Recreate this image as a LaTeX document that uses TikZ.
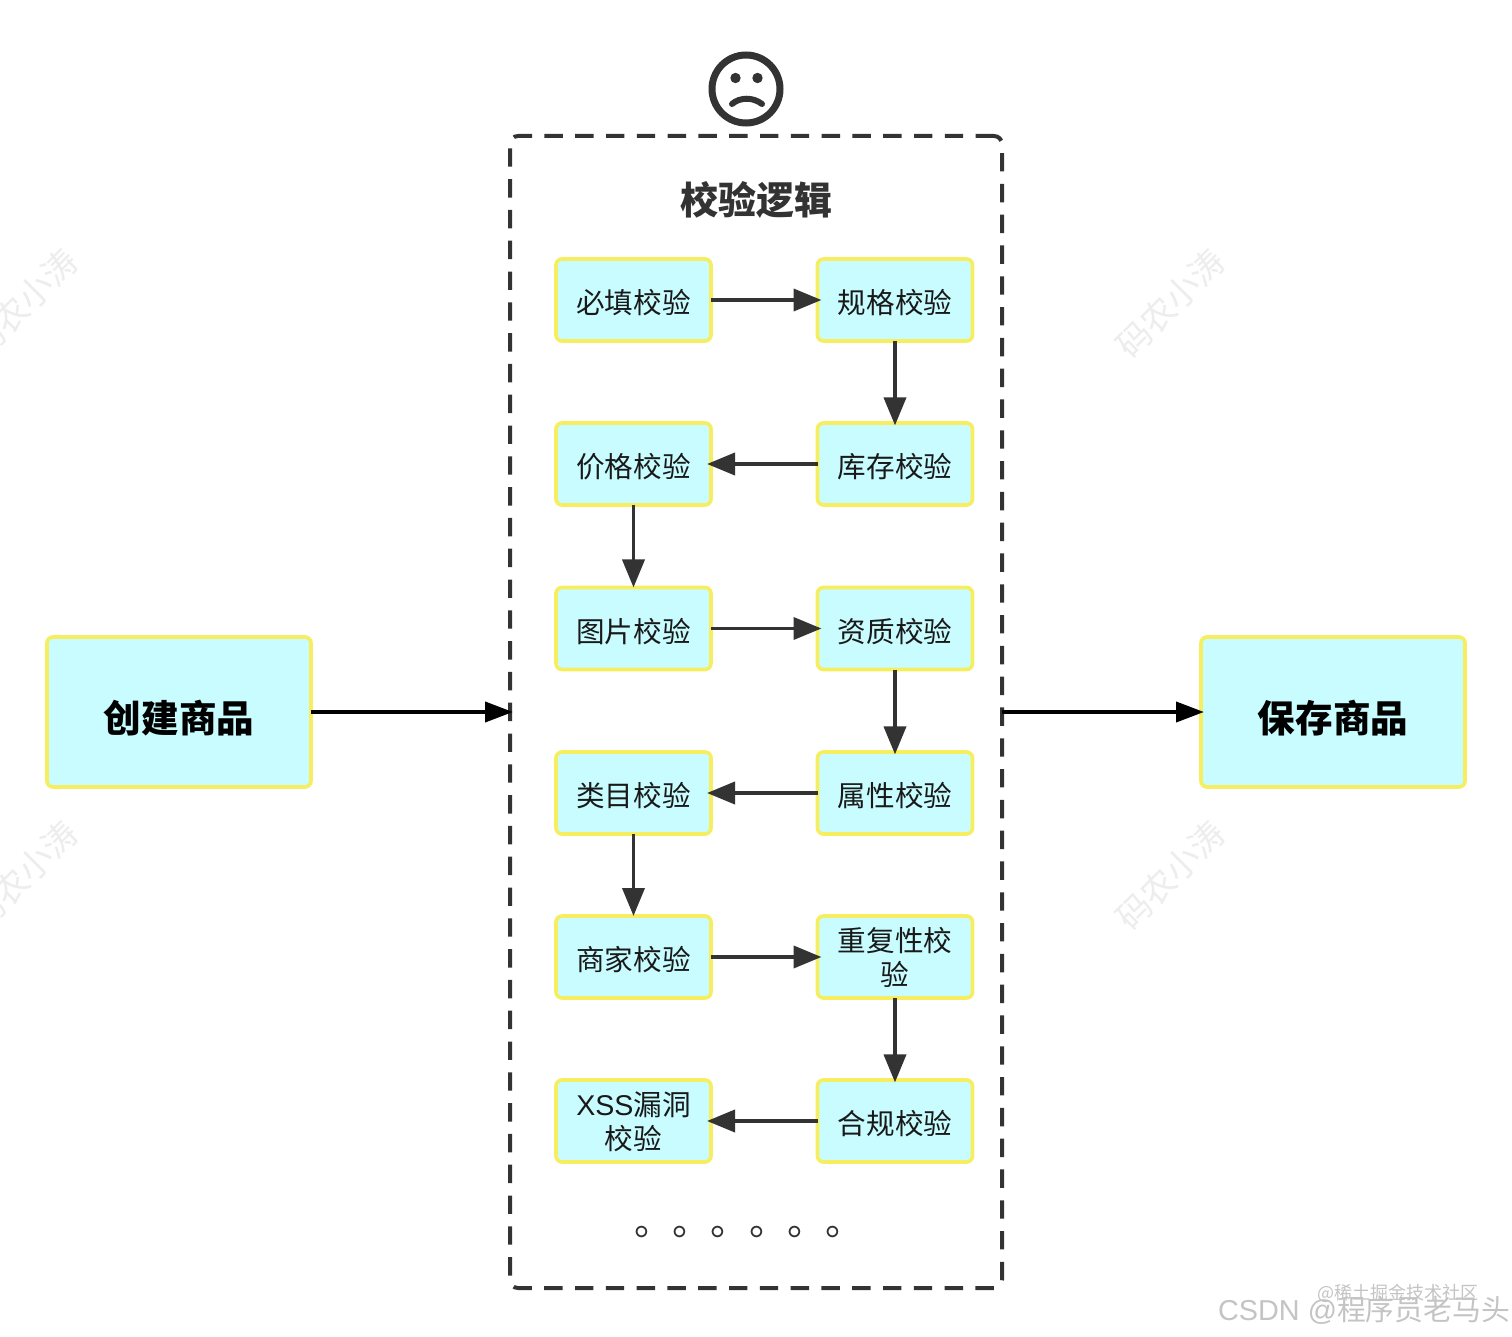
\documentclass[tikz,border=0pt]{standalone}
\usepackage{fontspec}
\setmainfont{Noto Sans CJK SC}
\newfontfamily\latinf{Liberation Sans}
\usetikzlibrary{arrows.meta}
\definecolor{boxfill}{HTML}{C8FCFF}
\definecolor{boxline}{HTML}{F6EE5E}
\definecolor{ink}{HTML}{333333}
\definecolor{wm}{HTML}{EDEDED}
\definecolor{csdn}{HTML}{C4C4C4}
\tikzset{
  x=0.5pt,y=-0.5pt,
  checkbox/.style={draw=boxline,fill=boxfill,line width=1.8pt,rounded corners=3pt,
    minimum width=77.5pt,minimum height=41pt,inner sep=0pt,outer sep=0pt,align=center,
    text=black!90,text height=15.1pt,font=\fontsize{14.3}{17}\selectfont},
  twoline/.style={text height=29.2pt},
  bigbox/.style={draw=boxline,fill=boxfill,line width=1.8pt,rounded corners=3pt,
    minimum width=132pt,minimum height=75pt,inner sep=0pt,outer sep=0pt,
    text=black,text height=22.5pt,font=\fontsize{18.8}{22}\selectfont\bfseries},
  flow/.style={draw=ink,line width=1.9pt,-{Triangle[length=14pt,width=11pt]},shorten >=-2pt},
  flowdown/.style={flow,shorten >=0pt},
  flowright/.style={flow,shorten >=-1.2pt},
  mainflow/.style={draw=black,line width=2pt,-{Triangle[length=14pt,width=10pt]},shorten >=-1.5pt},
  wmark/.style={text=wm,rotate=45,font=\fontsize{17}{19}\selectfont},
}
\begin{document}
\begin{tikzpicture}
\useasboundingbox (0,0) rectangle (1512,1337);
\fill[white] (0,0) rectangle (1512,1337);
% watermarks
\node[wmark] (w1) at (23,303) {码农小涛};
\node[wmark] (w2) at (1170,303) {码农小涛};
\node[wmark] (w3) at (23,875) {码农小涛};
\node[wmark] (w4) at (1170,875) {码农小涛};
\node[text=csdn,font=\fontsize{9}{11}\selectfont,inner sep=0pt] (w5) at (1398,1293) {@稀土掘金技术社区};
\node[text=csdn,font=\fontsize{14.4}{17}\selectfont,inner sep=0pt] (w6) at (1364,1310) {{\latinf CSDN @}程序员老马头};
% dashed container
\node[draw=ink,line width=2pt,dash pattern=on 9.2pt off 6.2pt,rounded corners=4pt,
  minimum width=246pt,minimum height=576pt,inner sep=0pt,outer sep=0pt] (logic) at (756,712) {};
\node[text=ink,font=\fontsize{19}{22}\selectfont\bfseries,inner sep=0pt] (title) at (756,200) {校验逻辑};
% face
\node[circle,draw=ink,line width=3.5pt,minimum size=34pt,inner sep=0pt] (face) at (746,89) {};
\fill[ink] (735.5,78) circle (2.6pt) (757.5,78) circle (2.6pt);
\draw[ink,line width=3pt,line cap=round] (732,104) .. controls (740,97) and (753,97) .. (762,104);
% left column
\node[checkbox] (a1) at (633.5,300) {必填校验};
\node[checkbox] (a2) at (633.5,464) {价格校验};
\node[checkbox] (a3) at (633.5,628.5) {图片校验};
\node[checkbox] (a4) at (633.5,793) {类目校验};
\node[checkbox] (a5) at (633.5,957) {商家校验};
\node[checkbox,twoline] (a6) at (633.5,1121) {{\latinf XSS}漏洞\\校验};
% right column
\node[checkbox] (b1) at (895,300) {规格校验};
\node[checkbox] (b2) at (895,464) {库存校验};
\node[checkbox] (b3) at (895,628.5) {资质校验};
\node[checkbox] (b4) at (895,793) {属性校验};
\node[checkbox,twoline] (b5) at (895,957) {重复性校\\验};
\node[checkbox] (b6) at (895,1121) {合规校验};
% outer boxes
\node[bigbox] (create) at (179,712) {创建商品};
\node[bigbox] (save) at (1333,712) {保存商品};
% dots
\node[text=ink,font=\fontsize{19.1}{22}\selectfont,inner sep=0pt] (dots) at (749,1232) {。。。。。。};
% connectors
\draw[flow] (a1) -- (b1);
\draw[flowright] (b1) -- (b2);
\draw[flow] (b2) -- (a2);
\draw[flowdown] (a2) -- (a3);
\draw[flow] (a3) -- (b3);
\draw[flowright] (b3) -- (b4);
\draw[flow] (b4) -- (a4);
\draw[flowdown] (a4) -- (a5);
\draw[flow] (a5) -- (b5);
\draw[flowright] (b5) -- (b6);
\draw[flow] (b6) -- (a6);
\draw[mainflow] (create) -- (logic);
\draw[mainflow] (logic) -- (save);
\end{tikzpicture}
\end{document}
